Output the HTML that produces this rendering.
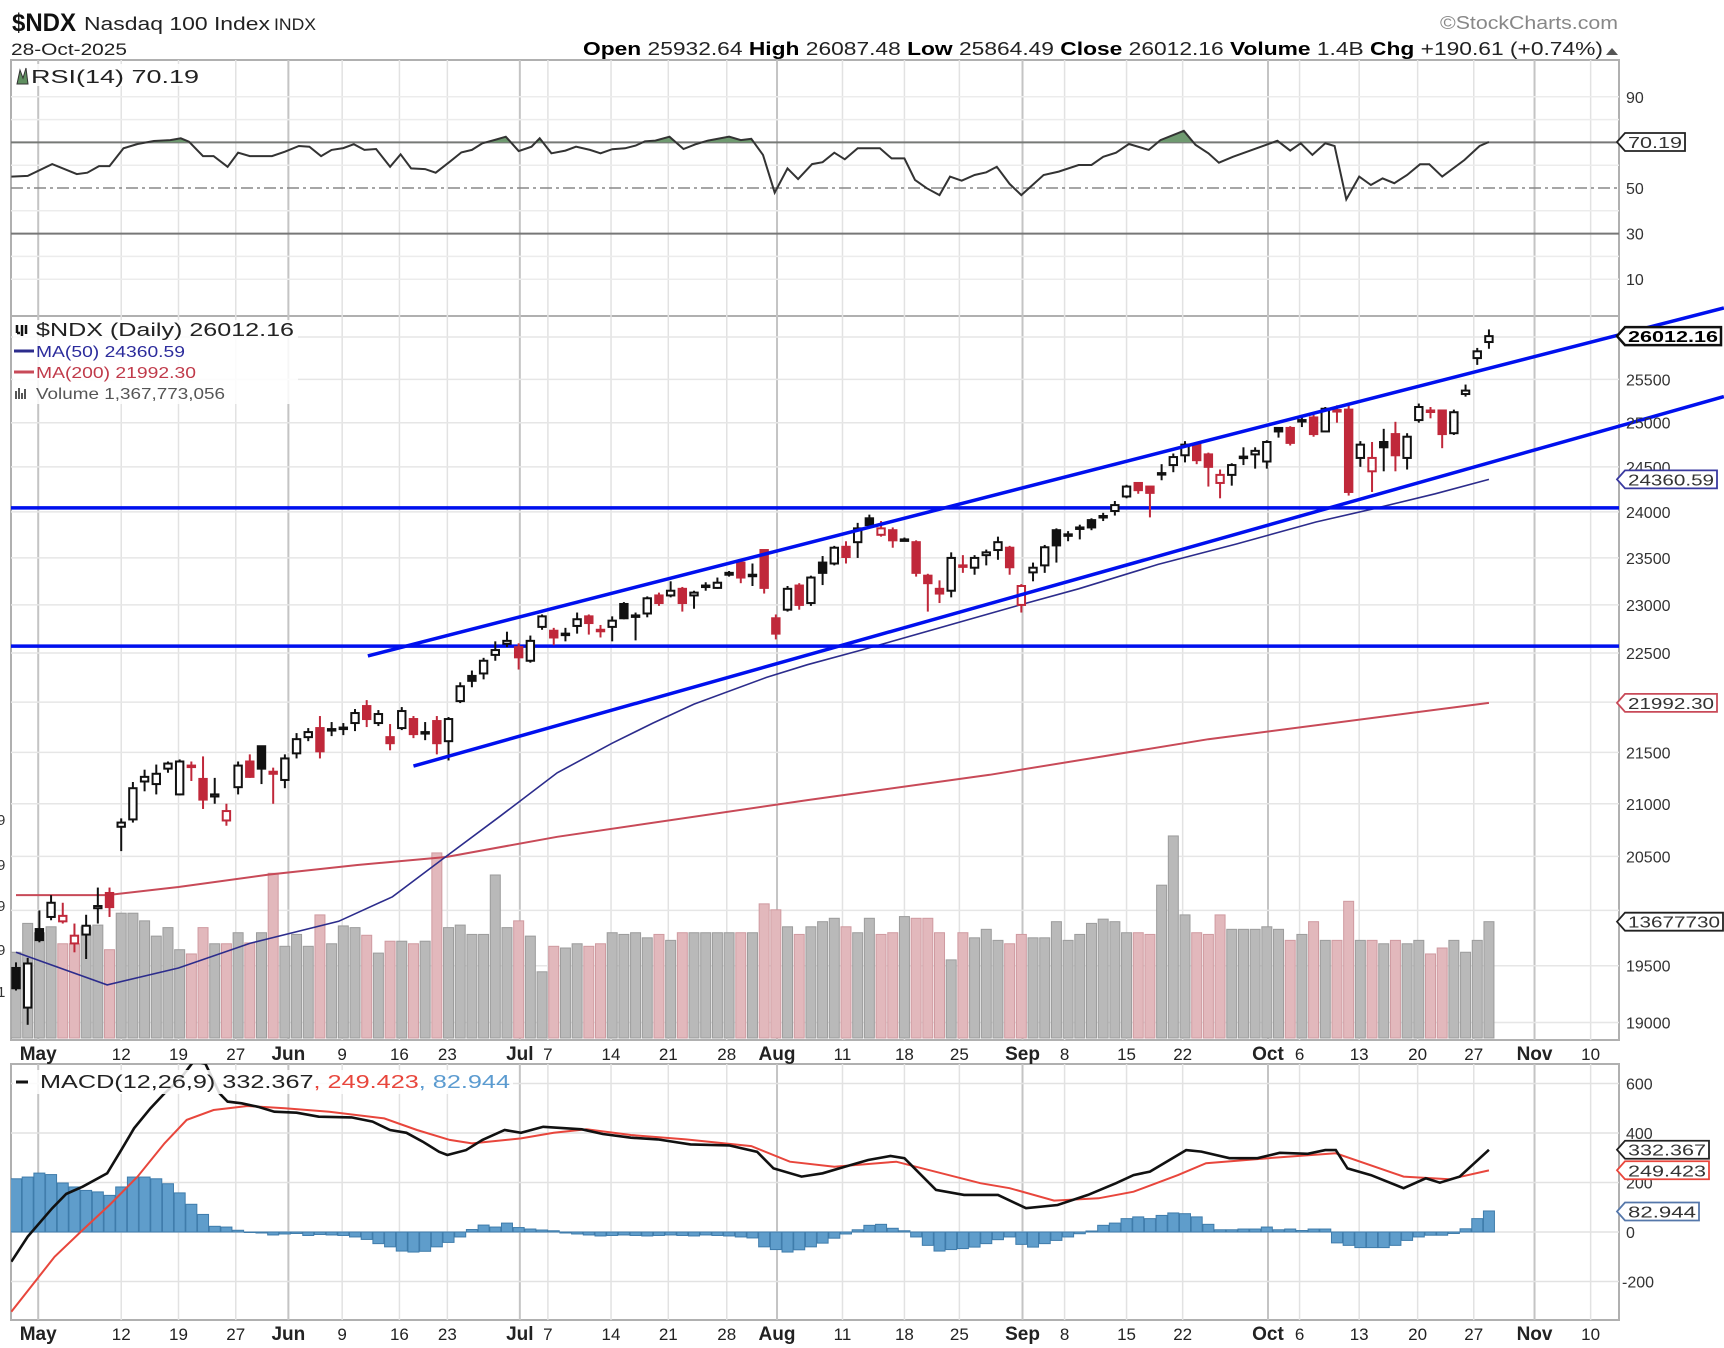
<!DOCTYPE html>
<html><head><meta charset="utf-8">
<style>
html,body{margin:0;padding:0;background:#fff;}
svg{display:block;font-family:"Liberation Sans",sans-serif;}
</style></head>
<body>
<svg id="chart" xmlns="http://www.w3.org/2000/svg" width="1724" height="1348" viewBox="0 0 1724 1348"></svg>
<script>
// ---------- DATA ----------
const opens=[19480,19130,19830,19940,19900,19700,19780,20020,20160,20780,20850,21215,21190,21340,21090,21370,21240,21070,20840,21160,21410,21560,21310,21230,21490,21650,21740,21720,21730,21790,21960,21790,21650,21740,21830,21690,21810,21610,22010,22265,22290,22480,22595,22560,22420,22770,22730,22690,22780,22880,22740,22770,23010,22880,22910,23100,23100,23170,23100,23190,23180,23320,23450,23310,23585,22860,22950,23205,23020,23450,23440,23620,23670,23930,23750,23800,23690,23670,23310,23170,23150,23420,23395,23530,23585,23610,23000,23345,23420,23800,23740,23815,23910,23945,24010,24170,24320,24280,24420,24520,24630,24750,24640,24320,24410,24600,24640,24560,24940,24940,25020,25060,24900,25140,25150,24600,24450,24780,24870,24600,25030,25140,25140,24880,25330,25750,25940];
const closes=[19300,19520,19730,20070,19950,19770,19860,20040,20030,20820,21150,21260,21290,21390,21410,21360,21040,21090,20930,21370,21260,21340,21290,21440,21630,21700,21510,21730,21745,21890,21830,21880,21590,21910,21680,21700,21590,21830,22160,22215,22420,22530,22625,22455,22625,22880,22660,22700,22850,22810,22725,22835,22860,22890,23070,23020,23150,23020,23130,23205,23235,23340,23290,23320,23180,22700,23170,23000,23290,23340,23610,23510,23820,23855,23820,23690,23700,23340,23230,23120,23500,23410,23500,23560,23670,23400,23200,23395,23615,23635,23755,23830,23830,23955,24075,24280,24240,24210,24430,24610,24750,24575,24500,24410,24520,24615,24680,24780,24900,24770,25030,24870,25160,25145,24220,24750,24600,24720,24630,24840,25180,25135,24870,25120,25370,25830,26010];
const highs=[19530,19570,20000,20140,20070,19880,19960,20210,20210,20860,21210,21330,21380,21410,21430,21410,21460,21250,21000,21410,21480,21560,21350,21480,21690,21740,21860,21800,21790,21930,22020,21920,21780,21950,21860,21800,21860,21850,22200,22320,22450,22620,22720,22600,22680,22900,22760,22760,22920,22900,22790,22880,23030,22920,23090,23130,23250,23190,23150,23240,23290,23360,23470,23440,23590,22900,23200,23230,23310,23520,23630,23680,23880,23970,23900,23830,23720,23690,23330,23260,23560,23530,23530,23590,23730,23630,23220,23450,23640,23820,23790,23860,23930,23990,24120,24300,24330,24280,24530,24650,24790,24770,24660,24470,24540,24720,24720,24800,24940,24960,25090,25090,25180,25200,25230,24790,24780,24930,25010,24880,25220,25180,25140,25150,25440,25870,26090];
const lows=[19280,18980,19710,19910,19880,19620,19560,19880,19940,20550,20820,21120,21090,21300,21080,21220,20950,21000,20790,21090,21250,21190,21000,21150,21440,21610,21440,21660,21670,21710,21750,21760,21520,21720,21640,21620,21480,21420,21990,22150,22230,22420,22560,22330,22400,22740,22580,22620,22700,22690,22660,22620,22850,22630,22870,22990,23080,22930,22960,23150,23170,23300,23230,23200,23120,22640,22930,22950,22990,23210,23420,23440,23500,23820,23730,23610,23680,23300,22930,23020,23080,23340,23320,23420,23480,23320,22920,23250,23340,23450,23680,23700,23800,23900,23960,24150,24200,23940,24350,24440,24550,24530,24280,24150,24290,24520,24480,24480,24830,24740,24950,24840,24920,25000,24180,24500,24220,24450,24450,24470,25000,25050,24710,24860,25300,25670,25860];
const volumes=[1.01,1.35,1.24,1.31,1.11,1.11,1.31,1.33,1.04,1.47,1.47,1.38,1.20,1.30,1.04,0.99,1.30,1.11,1.11,1.24,1.12,1.24,1.94,1.08,1.22,1.08,1.45,1.11,1.32,1.30,1.21,1.00,1.14,1.14,1.11,1.14,2.18,1.30,1.33,1.22,1.22,1.92,1.30,1.38,1.20,0.78,1.08,
1.06,1.11,1.08,1.11,1.24,1.22,1.24,1.18,1.22,1.15,1.24,1.24,1.24,1.24,1.24,1.24,1.24,1.58,1.51,1.31,1.22,1.31,1.37,1.41,1.31,1.24,1.41,1.22,1.24,1.43,1.41,1.41,1.24,0.92,1.24,1.18,1.28,1.15,1.11,1.22,1.18,1.18,1.37,1.15,1.22,1.35,1.40,1.37,1.24,1.24,1.22,1.80,2.38,1.45,1.24,1.22,1.45,1.28,1.28,1.28,1.31,1.28,1.15,1.22,1.37,1.15,1.15,1.61,1.15,1.15,1.11,1.15,1.11,1.15,0.99,1.06,1.15,1.01,1.15,1.37];
const ma50Idx=[0,7.8,13.9,20,27.6,32.2,36.8,41.4,46.3,51,54.5,58,64.2,67.7,72.3,85.9,90.9,97.7,104.4,111.2,116.3,121.4,126];
const ma50Val=[19620,19330,19480,19700,19900,20125,20500,20880,21300,21590,21790,21980,22250,22380,22530,23000,23170,23430,23650,23890,24040,24200,24360];
const ma200Idx=[0,7.8,13.9,21.6,29.2,36.8,46.3,67.7,83.3,102,126];
const ma200Val=[20140,20140,20215,20330,20420,20495,20685,21035,21280,21630,21992];
const rsiIdx=[-0.4,1.0,3.1,5.2,6.1,7.1,8.0,9.2,10.4,11.8,13.2,14.1,14.8,16.0,16.9,18.1,19.0,20.0,21.9,23.0,24.2,25.1,26.1,27.0,28.0,28.9,29.8,30.8,32.0,32.9,33.8,35.0,35.9,37.1,38.1,39.0,39.9,40.9,41.9,43.0,44.1,44.8,45.8,47.0,47.9,49.1,50.0,51.0,52.1,53.0,53.8,54.7,55.9,57.1,58.2,59.2,61.0,62.0,62.9,63.9,64.9,66.0,66.9,68.1,69.0,70.0,70.9,72.0,73.9,74.9,76.0,76.9,77.9,79.0,79.9,80.9,82.0,83.0,83.9,85.0,86.0,87.9,89.2,90.9,92.0,93.0,94.1,95.2,96.9,97.9,99.9,100.9,102.0,102.9,104.1,107.1,107.9,109.0,109.9,110.9,112.0,112.8,113.8,114.9,115.9,116.9,117.9,119.0,120.1,120.9,122.0,123.9,125.2,126];
const rsiVal=[55.0,55.3,60.5,56.1,56.7,59.6,59.6,67.4,69.3,70.6,71.0,71.8,70.3,64.0,64.0,59.3,65.5,64.0,64.0,65.9,68.4,68.1,64.0,66.7,67.5,69.2,66.7,67.1,59.3,64.8,58.6,58.3,56.7,61.5,65.6,66.7,69.6,71.0,72.5,66.2,68.1,71.8,65.2,66.4,68.1,66.7,65.2,67.0,67.4,68.6,70.5,70.8,72.5,67.1,69.3,70.8,72.5,71.0,71.6,64.5,48.0,58.6,53.9,60.5,61.3,65.5,62.6,67.4,67.4,63.0,63.0,53.5,49.9,46.9,55.0,53.2,55.7,56.9,59.3,51.8,46.9,55.7,57.2,60.1,60.1,63.7,65.5,69.3,66.7,71.0,75.1,68.9,65.2,61.1,63.7,69.2,70.7,66.4,69.6,64.5,69.6,68.4,45.0,55.0,51.3,54.2,52.1,55.7,60.4,60.4,55.0,62.3,68.4,70.19];
const macdIdx=[-0.4,1.0,3.1,4.3,5.7,7.8,9.0,10.1,11.5,12.7,14.1,15.2,16.2,17.4,18.1,19.3,20.7,22.1,24.0,25.9,28.7,30.5,32.0,33.4,34.8,36.2,36.9,38.5,39.9,41.8,43.2,45.1,48.4,50.2,52.6,54.9,57.7,61.0,63.4,64.8,67.2,69.0,70.9,72.9,74.8,76.0,78.7,81.1,84.0,86.4,89.1,91.7,94.1,95.6,97.0,100.1,101.4,103.8,106.2,108.1,110.5,112.0,112.9,113.9,115.9,118.7,120.6,121.8,123.5,126];
const macdVal=[-120,-19,96,154,183,237,331,419,500,560,621,690,680,561,527,520,506,486,482,466,463,446,412,401,365,324,311,331,372,412,401,425,415,396,381,374,354,350,324,257,224,237,264,291,307,298,170,150,150,96,109,150,197,230,244,331,325,298,298,320,316,331,331,257,230,177,217,199,224,332];
const sigIdx=[-0.4,3.3,5.7,8.0,10.4,12.7,14.6,16.9,19.8,23.0,26.8,31.5,34.3,37.1,39.0,43.2,46.0,48.8,52.6,57.3,62.9,66.2,70.0,75.3,82.5,85,88.8,92.6,95.6,99.4,101.8,107.1,112.9,118.7,122.6,126];
const sigVal=[-322,-100,8,109,224,358,453,493,509,500,486,459,412,372,358,378,401,415,392,374,347,284,264,284,197,177,127,136,163,230,278,298,318,224,213,249];
const histVal=[215,222,238,232,198,182,168,162,148,182,222,222,215,195,158,112,71,23,20,7,
-2,-4,-12,-8,-6,-14,-10,
-12,-14,-20,-30,-47,-60,-77,-81,-78,-60,-42,-20,
10,28,20,36,18,12,8,5,
-4,-8,-12,-16,-14,-12,-14,-16,-14,-12,-14,-16,-12,-14,-16,-20,-24,
-60,-71,-81,-72,-60,-45,-25,-8,
9,27,31,15,5,
-20,-54,-77,-71,-67,-61,-47,-31,-20,-50,-61,-47,
-34,-20,-7,4,27,
36,54,61,54,67,77,74,61,31,9,
9,12,12,20,9,12,6,12,12,
-44,-54,-63,-63,-63,-54,-34,
-20,-13,-13,-6,13,54,85];
const dateLabels=["May","12","19","27","Jun","9","16","23","Jul","7","14","21","28","Aug","11","18","25","Sep","8","15","22","Oct","6","13","20","27","Nov","10"];
const dateIdx=[1.9,9,13.9,18.8,23.3,27.9,32.8,36.9,43.1,45.5,50.9,55.8,60.8,65.1,70.7,76,80.7,86.1,89.7,95,99.8,107.1,109.8,114.9,119.9,124.7,129.9,134.7];
const priceTicks=[19000,19500,20500,21000,21500,22500,23000,23500,24000,24500,25000,25500];
const priceGrid=[19000,19500,20000,20500,21000,21500,22000,22500,23000,23500,24000,24500,25000,25500,26000];
const rsiTicks=[10,30,50,70,90];
const macdTicks=[-200,0,200,400,600];
const trendUpper=[30.1,22470,146.1,26347];
const trendLower=[34.0,21365,146.1,25300];
const hLevels=[24045,22570];

// ---------- SCALES ----------
const X=i=>16+11.69*i;
const YP=p=>1022.5-2185.6*Math.log(p/19000);
const YR=v=>188-(v-50)*2.28;
const YM=v=>1232-v*0.2475;
const YV=v=>1038-v*84.9;
const L=11,R=1619;
const P1={t:60,b:316},P2={t:316,b:1040},P3={t:1064,b:1320};

const svg=document.getElementById('chart');
const NS='http://www.w3.org/2000/svg';
function mk(tag,attrs,parent){const e=document.createElementNS(NS,tag);for(const k in attrs)e.setAttribute(k,attrs[k]);(parent||svg).appendChild(e);return e;}
function txt(s,attrs,parent){const e=mk('text',attrs,parent);e.textContent=s;return e;}

const defs=mk('defs',{});
[['c1',P1],['c2',P2],['c3',P3]].forEach(([id,p])=>{const c=mk('clipPath',{id:id},defs);mk('rect',{x:L,y:p.t,width:R-L,height:p.b-p.t},c);});
const cg=mk('clipPath',{id:'cgreen'},defs);mk('rect',{x:L,y:P1.t,width:R-L,height:YR(70)-P1.t},cg);
const ctl=mk('clipPath',{id:'ctrend'},defs);mk('rect',{x:L,y:280,width:1724-L,height:P2.b-280},ctl);

// ---------- HEADER ----------
const hdr=mk('g',{});


let t=txt('$NDX',{x:12,y:31,'font-size':25,'font-weight':'bold',textLength:64,lengthAdjust:'spacingAndGlyphs',fill:'#111'},hdr);

t=txt('Nasdaq 100 Index',{x:84,y:30,'font-size':18,textLength:186,lengthAdjust:'spacingAndGlyphs',fill:'#222'},hdr);

t=txt('INDX',{x:274,y:30,'font-size':17,textLength:42,lengthAdjust:'spacingAndGlyphs',fill:'#222'},hdr);

t=txt('©StockCharts.com',{x:1440,y:29,'font-size':18,textLength:178,lengthAdjust:'spacingAndGlyphs',fill:'#888'},hdr);

t=txt('28-Oct-2025',{x:11,y:55,'font-size':17,textLength:116,lengthAdjust:'spacingAndGlyphs',fill:'#222'},hdr);

const ohlc=txt('',{x:583,y:55,'font-size':18,textLength:1020,lengthAdjust:'spacingAndGlyphs',fill:'#222'},hdr);

[['Open ',1],['25932.64  ',0],['High ',1],['26087.48  ',0],['Low ',1],['25864.49  ',0],['Close ',1],['26012.16  ',0],['Volume ',1],['1.4B  ',0],['Chg ',1],['+190.61 (+0.74%)',0]].forEach(([s,b])=>{const ts=mk('tspan',b?{'font-weight':'bold',fill:'#000'}:{},ohlc);ts.textContent=s;});
const tri=mk('path',{d:'M1606,55 L1612,48 L1618,55 Z',fill:'#555'},hdr);


// ---------- PANEL FRAMES ----------
function frame(p,name){const r=mk('rect',{x:L,y:p.t,width:R-L,height:p.b-p.t,fill:'#fff',stroke:'#b0b0b0','stroke-width':2});}
frame(P1,'rsi-panel');frame(P2,'price-panel');frame(P3,'macd-panel');

const vg=mk('g',{});

dateIdx.forEach((d,k)=>{const x=X(d);const month=isNaN(+dateLabels[k]);
 [P1,P2,P3].forEach(p=>{const ln=mk('line',{x1:x,x2:x,y1:p.t,y2:p.b,stroke:month?'#c4c4c4':'#e2e2e2','stroke-width':month?2:1.5},vg);});});

// ---------- RSI ----------
const rg=mk('g',{'clip-path':'url(#c1)'});

for(let v=10;v<=90;v+=10){if(v===30||v===50||v===70)continue;const ln=mk('line',{x1:L,x2:R,y1:YR(v),y2:YR(v),stroke:'#ececec','stroke-width':1.5},rg);}
[70,30].forEach(v=>{const ln=mk('line',{x1:L,x2:R,y1:YR(v),y2:YR(v),stroke:'#777','stroke-width':2},rg);});
let ln50=mk('line',{x1:L,x2:R,y1:YR(50),y2:YR(50),stroke:'#888','stroke-width':1.5,'stroke-dasharray':'12,4,3,4'},rg);

const rpts=rsiIdx.map((d,k)=>X(d).toFixed(1)+','+YR(rsiVal[k]).toFixed(1));
const gf=mk('polygon',{points:rpts.join(' ')+' '+X(rsiIdx[rsiIdx.length-1])+','+YR(70)+' '+X(rsiIdx[0])+','+YR(70),fill:'#6f9a70','clip-path':'url(#cgreen)'},rg);

const rl=mk('polyline',{points:rpts.join(' '),fill:'none',stroke:'#333','stroke-width':2},rg);

rsiTicks.forEach(v=>{if(v===70)return;const e=txt(String(v),{x:1626,y:YR(v)+6,'font-size':16,fill:'#333'});});

// ---------- PRICE ----------
const pg=mk('g',{'clip-path':'url(#c2)'});

priceGrid.forEach(p=>{const ln=mk('line',{x1:L,x2:R,y1:YP(p),y2:YP(p),stroke:'#e6e6e6','stroke-width':1.5},pg);});
volumes.forEach((v,i)=>{const down=i>0&&closes[i]<closes[i-1];const y=YV(v);
 const b=mk('rect',{x:X(i)-5,y:y,width:10,height:1038-y,fill:down?'#e2b8bc':'#b9b9b9',stroke:down?'#cf9aa0':'#9c9c9c','stroke-width':1},pg);
 });
const m200=mk('polyline',{points:ma200Idx.map((d,k)=>X(d)+','+YP(ma200Val[k]).toFixed(1)).join(' '),fill:'none',stroke:'#c84a58','stroke-width':2},pg);

const m50=mk('polyline',{points:ma50Idx.map((d,k)=>X(d)+','+YP(ma50Val[k]).toFixed(1)).join(' '),fill:'none',stroke:'#2c2c8c','stroke-width':1.6},pg);

hLevels.forEach(p=>{const ln=mk('line',{x1:L,x2:R,y1:YP(p),y2:YP(p),stroke:'#0010ee','stroke-width':3.5},pg);});
closes.forEach((c,i)=>{const o=opens[i],up=c>=o,red=i>0&&c<closes[i-1];const col=red?'#c0283a':'#111';const x=X(i);
 const g=mk('g',{},pg);
 const top=YP(Math.max(o,c)),bot=YP(Math.min(o,c));
 mk('line',{x1:x,x2:x,y1:YP(highs[i]),y2:top,stroke:col,'stroke-width':2},g);
 mk('line',{x1:x,x2:x,y1:bot,y2:YP(lows[i]),stroke:col,'stroke-width':2},g);
 mk('rect',{x:x-3.7,y:top,width:7.4,height:Math.max(1.5,bot-top),fill:up?'#fff':col,stroke:col,'stroke-width':2},g);});
const tg=mk('g',{'clip-path':'url(#ctrend)'});

[trendUpper,trendLower].forEach((a,k)=>{const ln=mk('line',{x1:X(a[0]),y1:YP(a[1]),x2:X(a[2]),y2:YP(a[3]),stroke:'#0010ee','stroke-width':3.5},tg);});
priceTicks.forEach(p=>{const e=txt(String(p),{x:1626,y:YP(p)+6,'font-size':16,fill:'#333'});});
[[820,'9'],[865,'9'],[906,'9'],[950,'9'],[992,'1']].forEach(([y,s])=>{const e=txt(s,{x:-3,y:y+5,'font-size':15,fill:'#333'});});

// ---------- MACD ----------
const mg=mk('g',{'clip-path':'url(#c3)'});

macdTicks.forEach(v=>{const ln=mk('line',{x1:L,x2:R,y1:YM(v),y2:YM(v),stroke:'#e2e2e2','stroke-width':1.5},mg);});
histVal.forEach((v,i)=>{const y0=YM(0),y=YM(v);const b=mk('rect',{x:X(i)-5.5,y:Math.min(y,y0),width:11,height:Math.abs(y-y0),fill:'#5f9dcb',stroke:'#3f7cab','stroke-width':1},mg);});
const sl=mk('polyline',{points:sigIdx.map((d,k)=>X(d)+','+YM(sigVal[k]).toFixed(1)).join(' '),fill:'none',stroke:'#e8463c','stroke-width':2},mg);

const ml=mk('polyline',{points:macdIdx.map((d,k)=>X(d)+','+YM(macdVal[k]).toFixed(1)).join(' '),fill:'none',stroke:'#111','stroke-width':2.6},mg);

macdTicks.forEach(v=>{const e=txt(String(v),{x:v<0?1622:1626,y:YM(v)+6,'font-size':16,fill:'#333'});});

// ---------- DATE AXES ----------
[1053,1333].forEach((yy,row)=>{dateLabels.forEach((s,k)=>{const month=isNaN(+s);const e=txt(s,{x:X(dateIdx[k]),y:yy+7,'font-size':month?19:17,'font-weight':month?'bold':'normal','text-anchor':'middle',fill:'#222'});});});

// ---------- VALUE TAGS ----------
function tag(y,s,col,w,bold,name){const g=mk('g',{});
 mk('path',{d:`M1617,${y} L1625,${y-9} L${1625+w},${y-9} L${1625+w},${y+9} L1625,${y+9} Z`,fill:'#fff',stroke:col,'stroke-width':bold?2.5:1.8},g);
 txt(s,{x:1628,y:y+6,'font-size':16,'font-weight':bold?'bold':'normal',fill:bold?'#000':'#333',textLength:w-6,lengthAdjust:'spacingAndGlyphs'},g);}
tag(YR(rsiVal[rsiVal.length-1]),'70.19','#222',60,false,'rsi-value-tag');
tag(YP(closes[closes.length-1]),'26012.16','#111',96,true,'close-value-tag');
tag(YP(ma50Val[ma50Val.length-1]),'24360.59','#3a3aa0',92,false,'ma50-value-tag');
tag(YP(ma200Val[ma200Val.length-1]),'21992.30','#c84a58',92,false,'ma200-value-tag');
tag(YV(volumes[volumes.length-1]),'13677730','#222',98,false,'volume-value-tag');
tag(YM(332.367),'332.367','#222',84,false,'macd-value-tag');
tag(YM(249.423),'249.423','#e8463c',84,false,'signal-value-tag');
tag(YM(82.944),'82.944','#5577aa',74,false,'histogram-value-tag');

// ---------- LEGENDS ----------
function legendBg(x,y,w,h){mk('rect',{x:x,y:y,width:w,height:h,fill:'#fff','fill-opacity':0.85});}
legendBg(13,64,190,22);
let ic=mk('path',{d:'M17,84 L20,70 L23,78 L26,68 L28,84 Z',fill:'#5f8f60',stroke:'#333','stroke-width':1});

t=txt('RSI(14) 70.19',{x:31,y:83,'font-size':18,fill:'#222',textLength:168,lengthAdjust:'spacingAndGlyphs'});

legendBg(13,320,285,84);
ic=mk('path',{d:'M17,333 v-8 M17,333 h3 M22,336 v-11 M26,334 v-9',stroke:'#111','stroke-width':2.5,fill:'none'});

t=txt('$NDX (Daily) 26012.16',{x:36,y:336,'font-size':18,fill:'#222',textLength:258,lengthAdjust:'spacingAndGlyphs'});

mk('line',{x1:14,x2:34,y1:351,y2:351,stroke:'#2c2c8c','stroke-width':3});
t=txt('MA(50) 24360.59',{x:36,y:357,'font-size':16,fill:'#2c2c9c',textLength:149,lengthAdjust:'spacingAndGlyphs'});

mk('line',{x1:14,x2:34,y1:372,y2:372,stroke:'#c84a58','stroke-width':3});
t=txt('MA(200) 21992.30',{x:36,y:378,'font-size':16,fill:'#c03a4a',textLength:160,lengthAdjust:'spacingAndGlyphs'});

ic=mk('path',{d:'M16,399 v-8 M19,399 v-11 M22,399 v-6 M25,399 v-10',stroke:'#555','stroke-width':2,fill:'none'});

t=txt('Volume 1,367,773,056',{x:36,y:399,'font-size':16,fill:'#555',textLength:189,lengthAdjust:'spacingAndGlyphs'});

legendBg(13,1070,500,24);
mk('line',{x1:16,x2:28,y1:1082,y2:1082,stroke:'#111','stroke-width':3});
const ml2=txt('',{x:40,y:1088,'font-size':18,textLength:470,lengthAdjust:'spacingAndGlyphs'});

[['MACD(12,26,9) 332.367','#222'],[', 249.423','#e8463c'],[', 82.944','#5b9bd0']].forEach(([s,c])=>{const ts=mk('tspan',{fill:c},ml2);ts.textContent=s;});
</script>
</body></html>
